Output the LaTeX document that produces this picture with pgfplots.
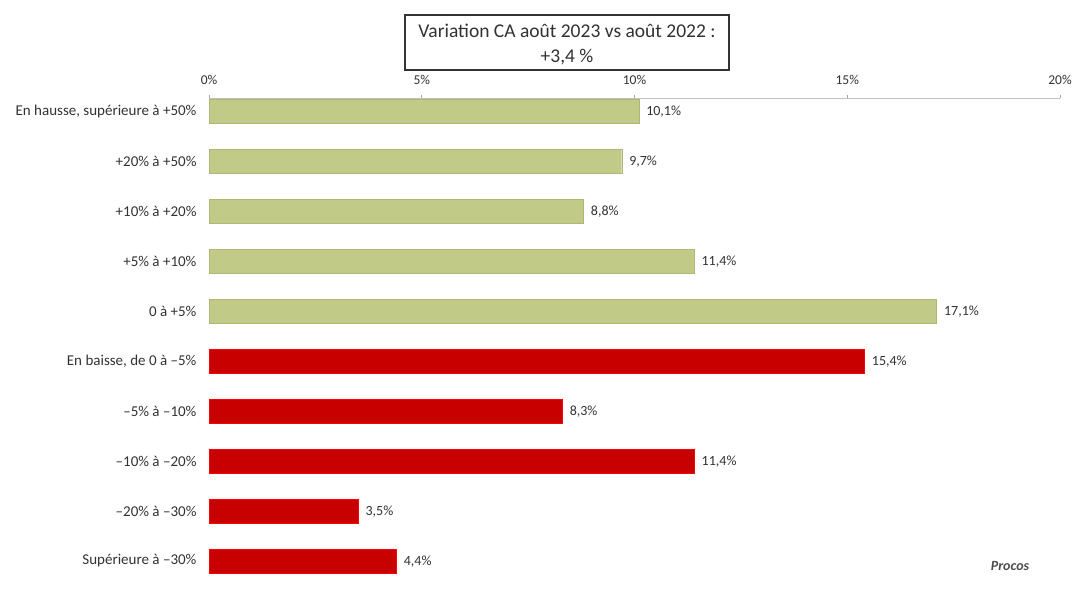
\documentclass[border=0pt]{standalone}
\usepackage{pgfplots}
\pgfplotsset{compat=1.18}
\usepackage{fontspec}
\setmainfont{Carlito}
\definecolor{barg}{RGB}{194,202,136}
\definecolor{barr}{RGB}{200,0,0}
\definecolor{txt}{RGB}{50,50,50}
\begin{document}
\begin{tikzpicture}[x=1pt,y=1pt]
\useasboundingbox (0,0) rectangle (1090,592);
\begin{axis}[at={(209pt,6pt)}, anchor=south west, scale only axis,
  width=851pt, height=488pt,
  xbar, bar width=24pt, bar shift=0pt,
  xmin=0, xmax=20, ymin=-0.26, ymax=9.5, y dir=reverse,
  axis x line*=top, axis y line*=left,
  y axis line style={draw=none},
  x axis line style={draw=black!25, line width=0.8pt},
  xtick={0,5,10,15,20},
  xticklabels={0\%,5\%,10\%,15\%,20\%},
  x tick style={draw=black!35, line width=0.8pt},
  tick align=outside, major tick length=3pt,
  xticklabel style={font=\fontsize{13.5}{15}\selectfont, text=txt, yshift=7pt},
  ytick={0,...,9},
  yticklabels={{En hausse, supérieure à +50\%},{+20\% à +50\%},{+10\% à +20\%},{+5\% à +10\%},{0 à +5\%},{En baisse, de 0 à –5\%},{–5\% à –10\%},{–10\% à –20\%},{–20\% à –30\%},{Supérieure à –30\%}},
  yticklabel style={font=\fontsize{15}{17}\selectfont, text=txt, xshift=-6pt},
  major y tick style={draw=none},
  nodes near coords={\pgfplotspointmeta},
  point meta=explicit symbolic,
  every node near coord/.append style={font=\fontsize{14}{16}\selectfont, text=txt, anchor=west, xshift=4pt, yshift=-1pt},
  clip=false,
]
\addplot[fill=barg, draw=barg!90!black, line width=0.4pt] coordinates {
 (10.1,0) [10,1\%]
 (9.7,1) [9,7\%]
 (8.8,2) [8,8\%]
 (11.4,3) [11,4\%]
 (17.1,4) [17,1\%]
};
\addplot[fill=barr, draw=red, line width=0.6pt] coordinates {
 (15.4,5) [15,4\%]
 (8.3,6) [8,3\%]
 (11.4,7) [11,4\%]
 (3.5,8) [3,5\%]
 (4.4,9) [4,4\%]
};
\end{axis}
\node[draw=black!80, line width=1.2pt, fill=white, minimum width=324pt, minimum height=55pt]
  at (567,549.5) {};
\node[font=\fontsize{19.5}{24}\selectfont, text=txt, align=center]
  at (567,547.5) {Variation CA août 2023 vs août 2022 :\\[1pt]+3,4 \%};
\node[font=\bfseries\itshape\fontsize{14}{16}\selectfont, text=black!70] at (1010,26) {Procos};
\end{tikzpicture}
\end{document}
